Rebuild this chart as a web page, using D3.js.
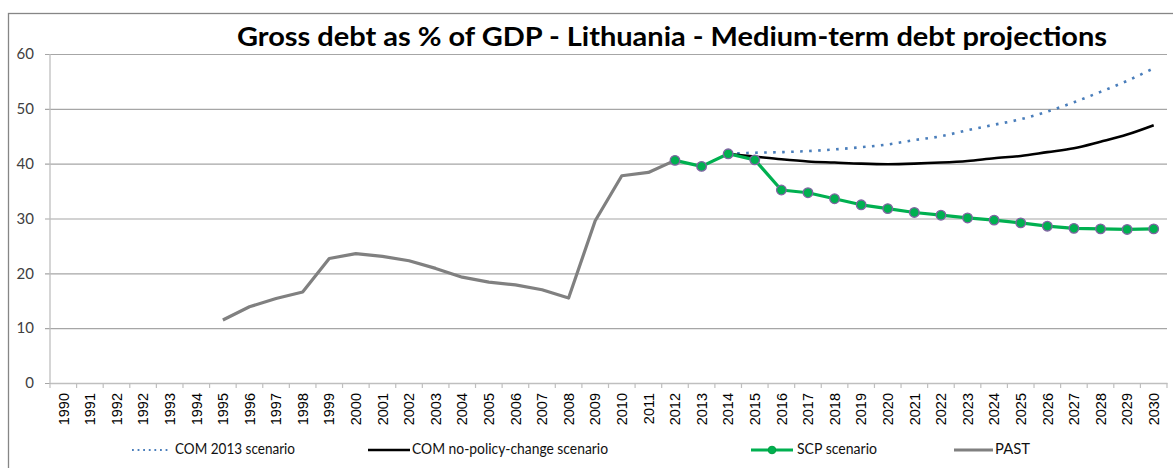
<!DOCTYPE html>
<html><head><meta charset="utf-8">
<script src="https://cdn.jsdelivr.net/npm/d3@7"></script>
<style>body{margin:0;background:#fff}svg{display:block}</style>
</head><body><svg id="c" width="1173" height="468"></svg>
<script>
const categories = ["1990","1991","1992","1992b","1993","1994","1995","1996","1997","1998","1999","2000","2001","2002","2003","2004","2005","2006","2007","2008","2009","2010","2011","2012","2013","2014","2015","2016","2017","2018","2019","2020","2021","2022","2023","2024","2025","2026","2027","2028","2029","2030"];
const yTicks = [0,10,20,30,40,50,60];
const pastYears = ["1995","1996","1997","1998","1999","2000","2001","2002","2003","2004","2005","2006","2007","2008","2009","2010","2011","2012"];
const pastValues = [11.5,13.9,15.4,16.6,22.7,23.6,23.1,22.3,20.9,19.3,18.4,17.9,17.0,15.5,29.6,37.8,38.4,40.6];
const scpYears = ["2012","2013","2014","2015","2016","2017","2018","2019","2020","2021","2022","2023","2024","2025","2026","2027","2028","2029","2030"];
const scpValues = [40.6,39.5,41.8,40.7,35.2,34.7,33.6,32.5,31.8,31.1,30.6,30.1,29.7,29.2,28.6,28.2,28.1,28.0,28.1];
const npcYears = ["2014","2015","2016","2017","2018","2019","2020","2021","2022","2023","2024","2025","2026","2027","2028","2029","2030"];
const npcValues = [41.8,41.3,40.8,40.4,40.2,40.0,39.9,40.0,40.2,40.5,41.0,41.4,42.1,42.8,44.0,45.3,47.0];
const com2013Years = ["2014","2015","2016","2017","2018","2019","2020","2021","2022","2023","2024","2025","2026","2027","2028","2029","2030"];
const com2013Values = [41.8,42.0,42.1,42.3,42.6,43.0,43.5,44.3,45.0,46.1,47.1,48.1,49.5,51.2,53.1,55.1,57.4];
const legendLabels = ["COM 2013 scenario","COM no-policy-change scenario","SCP scenario","PAST"];
const title = "Gross debt as % of GDP - Lithuania - Medium-term debt projections";

(function(){
const svg = d3.select("#c");
const FONT = "Lato, 'Open Sans', sans-serif";
const mLeft = 50, mRight = 1167, mTop = 54, mBottom = 383;
const x = d3.scaleBand().domain(categories).range([mLeft, mRight]);
const y = d3.scaleLinear().domain([0,60]).range([mBottom, mTop]);
const cx = c => x(c) + x.bandwidth()/2;

svg.append("rect").attr("x",8.5).attr("y",13.5).attr("width",1180).attr("height",470)
  .attr("fill","none").attr("stroke","#868686").attr("stroke-width",1.3);

svg.append("text").attr("x",672).attr("y",46).attr("text-anchor","middle")
  .attr("font-family","Lato, sans-serif").attr("font-weight","bold").attr("font-size",27)
  .attr("fill","#000").attr("textLength",870).attr("lengthAdjust","spacingAndGlyphs").text(title);

const yAxis = d3.axisLeft(y).tickValues(yTicks).tickSize(-(mRight-mLeft)).tickSizeOuter(0).tickPadding(16);
const gy = svg.append("g").attr("transform",`translate(${mLeft},0)`).call(yAxis);
gy.select(".domain").remove();
gy.selectAll(".tick line").attr("stroke","#a6a6a6").attr("stroke-width",1.2).attr("x1",-5);
gy.selectAll(".tick text").attr("font-family",FONT).attr("font-size",15).attr("fill","#404040");
svg.append("line").attr("x1",mLeft).attr("x2",mLeft).attr("y1",mTop).attr("y2",mBottom)
  .attr("stroke","#bfbfbf").attr("stroke-width",1.3);

const xAxis = d3.axisBottom(x).tickSize(0).tickFormat(d => d.replace("b",""));
const gx = svg.append("g").attr("transform",`translate(0,${mBottom})`).call(xAxis);
gx.select(".domain").attr("stroke","#bfbfbf").attr("stroke-width",1.3);
gx.selectAll(".tick text").attr("font-family","'Liberation Sans', Arial, sans-serif").attr("font-size",14.5).attr("fill","#000")
  .attr("transform","rotate(-90)").attr("text-anchor","end").attr("dx","-10").attr("dy","0.36em")
  .attr("x",0).attr("y",0);
const bounds = categories.map(c => x(c)).concat([mRight]);
svg.append("g").selectAll("line").data(bounds).join("line")
  .attr("x1",d=>d).attr("x2",d=>d).attr("y1",mBottom).attr("y2",mBottom+5)
  .attr("stroke","#bfbfbf").attr("stroke-width",1.2);

const zip = (a,b) => a.map((v,i)=>[v,b[i]]);
const lin = d3.line().x(d => cx(d[0])).y(d => y(d[1]));
const smooth = d3.line().x(d => cx(d[0])).y(d => y(d[1])).curve(d3.curveMonotoneX);

svg.append("path").datum(zip(pastYears,pastValues)).attr("d",lin)
  .attr("fill","none").attr("stroke","#808080").attr("stroke-width",3.2).attr("stroke-linejoin","round");
svg.append("path").datum(zip(com2013Years,com2013Values)).attr("d",smooth)
  .attr("fill","none").attr("stroke","#4a7ebb").attr("stroke-width",2.6).attr("stroke-dasharray","2.6,6.4");
svg.append("path").datum(zip(npcYears,npcValues)).attr("d",smooth)
  .attr("fill","none").attr("stroke","#000").attr("stroke-width",2.6);
svg.append("path").datum(zip(scpYears,scpValues)).attr("d",lin)
  .attr("fill","none").attr("stroke","#00b050").attr("stroke-width",3.2).attr("stroke-linejoin","round");
svg.append("g").selectAll("circle").data(zip(scpYears,scpValues)).join("circle")
  .attr("cx",d=>cx(d[0])).attr("cy",d=>y(d[1])).attr("r",4.8)
  .attr("fill","#00b050").attr("stroke","#8064a2").attr("stroke-width",1.3);

const ly = 450;
const lg = svg.append("g").attr("font-family",FONT).attr("font-size",15);
const items = [
  {x1:132,x2:171,tx:175,w:120,style:"dot"},
  {x1:368,x2:410,tx:412,w:196,style:"black"},
  {x1:751,x2:793,tx:797,w:80,style:"scp"},
  {x1:954,x2:993,tx:995,w:35,style:"past"}
];
items.forEach((it,i)=>{
  const l = lg.append("line").attr("x1",it.x1).attr("x2",it.x2).attr("y1",ly).attr("y2",ly);
  if(it.style==="dot") l.attr("stroke","#4a7ebb").attr("stroke-width",2).attr("stroke-dasharray","1.8,3.8");
  if(it.style==="black") l.attr("stroke","#000").attr("stroke-width",2.6);
  if(it.style==="scp"){ l.attr("stroke","#00b050").attr("stroke-width",3);
    lg.append("circle").attr("cx",(it.x1+it.x2)/2).attr("cy",ly).attr("r",3.8).attr("fill","#00b050").attr("stroke","#00a040"); }
  if(it.style==="past") l.attr("stroke","#808080").attr("stroke-width",3);
  lg.append("text").attr("x",it.tx).attr("y",ly-1).attr("dy","0.35em").attr("fill","#111")
    .attr("textLength",it.w).attr("lengthAdjust","spacingAndGlyphs").text(legendLabels[i]);
});
})();
</script></body></html>
